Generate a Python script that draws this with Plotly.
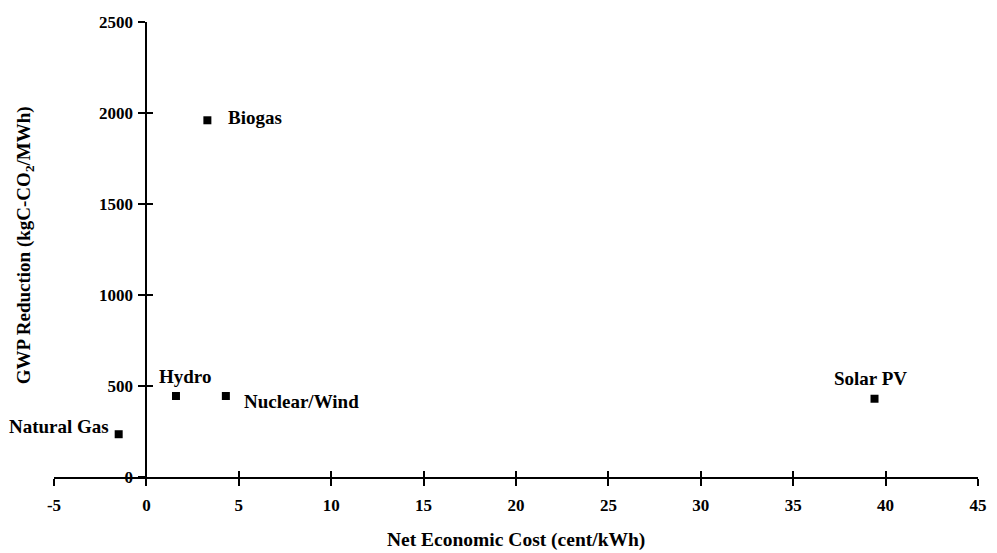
import plotly.graph_objects as go

# ---- data ----
names = ["Natural Gas", "Hydro", "Nuclear/Wind", "Biogas", "Solar PV"]
net_cost = [-1.5, 1.6, 4.3, 3.3, 39.4]          # cent/kWh
gwp_reduction = [235, 445, 445, 1960, 430]      # kgC-CO2/MWh

x_tick_vals = [-5, 0, 5, 10, 15, 20, 25, 30, 35, 40, 45]
x_tick_text = ["-5", "0", "5", "10", "15", "20", "25", "30", "35", "40", "45"]
y_tick_vals = [0, 500, 1000, 1500, 2000, 2500]
y_tick_text = ["0", "500", "1000", "1500", "2000", "2500"]

x_range = [-5, 45]
y_range = [0, 2500]

# ---- label placement (style) ----
label_style = {
    "Natural Gas": dict(xanchor="right", xshift=-8, yshift=8),
    "Hydro": dict(xanchor="center", xshift=9, yshift=20),
    "Nuclear/Wind": dict(xanchor="left", xshift=16, yshift=-5),
    "Biogas": dict(xanchor="left", xshift=19, yshift=3),
    "Solar PV": dict(xanchor="center", xshift=-4, yshift=20),
}

FONT = "Liberation Serif, Times New Roman, serif"
tickfont = dict(family=FONT, size=17, color="black", weight="bold")

fig = go.Figure()
fig.add_trace(go.Scatter(
    x=net_cost, y=gwp_reduction, mode="markers",
    marker=dict(symbol="square", size=8, color="black"),
    hoverinfo="text", text=names, showlegend=False,
))
# invisible trace to activate overlay axes (used for crossing tick marks)
fig.add_trace(go.Scatter(x=[x_range[0]], y=[y_range[0]], xaxis="x2", yaxis="y2",
                         mode="markers", marker=dict(opacity=0), showlegend=False,
                         hoverinfo="skip"))

y_pos = (0 - x_range[0]) / (x_range[1] - x_range[0])

for n, xv, yv in zip(names, net_cost, gwp_reduction):
    fig.add_annotation(x=xv, y=yv, xref="x", yref="y", text=f"<b>{n}</b>",
                       showarrow=False, yanchor="middle",
                       font=dict(family=FONT, size=19, color="black"),
                       **label_style[n])

fig.add_annotation(x=0.5, y=-0.138, xref="paper", yref="paper",
                   text="<b>Net Economic Cost (cent/kWh)</b>", showarrow=False,
                   xanchor="center", yanchor="middle",
                   font=dict(family=FONT, size=19.5, color="black"))
fig.add_annotation(x=-0.031, y=0.51, xref="paper", yref="paper",
                   text="<b>GWP Reduction (kgC-CO<sub>2</sub>/MWh)</b>", showarrow=False,
                   textangle=-90, xanchor="center", yanchor="middle",
                   font=dict(family=FONT, size=19, color="black"))

axis_common = dict(showgrid=False, zeroline=False, linecolor="black", linewidth=2,
                   tickcolor="black", tickwidth=2, ticklen=7, tickfont=tickfont)

fig.update_layout(
    width=997, height=553,
    margin=dict(l=54, r=10, t=22, b=76),
    paper_bgcolor="white", plot_bgcolor="white",
    xaxis=dict(range=x_range, tickvals=x_tick_vals, ticktext=x_tick_text,
               ticks="outside", showline=True, anchor="y", ticklabelstandoff=5,
               **axis_common),
    xaxis2=dict(range=x_range, tickvals=x_tick_vals, ticks="inside", showline=False,
                showticklabels=False, overlaying="x", anchor="y", side="bottom",
                matches="x", showgrid=False, zeroline=False, tickcolor="black",
                tickwidth=2, ticklen=6),
    yaxis=dict(range=y_range, tickvals=y_tick_vals, ticktext=y_tick_text,
               ticks="outside", showline=True, anchor="free", position=y_pos,
               ticklabelstandoff=2, **axis_common),
    yaxis2=dict(range=y_range, tickvals=y_tick_vals, ticks="inside", showline=False,
                showticklabels=False, overlaying="y", anchor="free", position=y_pos,
                matches="y", showgrid=False, zeroline=False, tickcolor="black",
                tickwidth=2, ticklen=6),
)

fig.write_html("out.html")
